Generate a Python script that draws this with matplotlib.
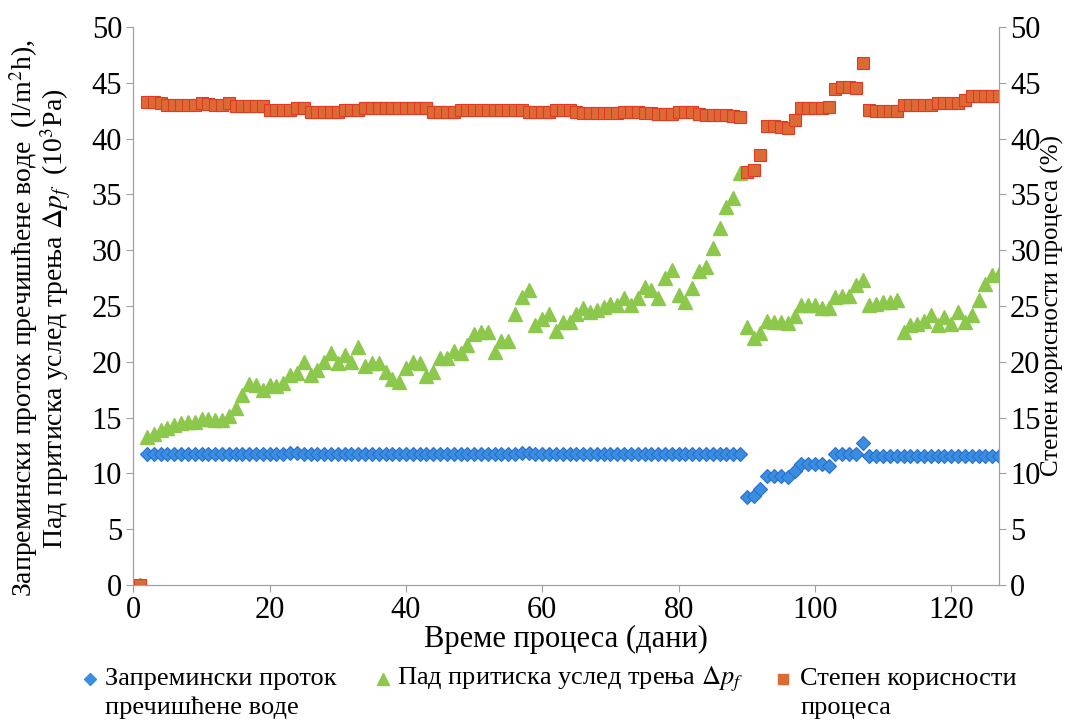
#Запремински проток, пад притиска и степен корисности процеса
#кроз време процеса (дани)

import matplotlib.pyplot as plt
from matplotlib.lines import Line2D

plt.rcParams['font.family'] = 'serif'
plt.rcParams['font.serif'] = ['Liberation Serif', 'DejaVu Serif']
plt.rcParams['mathtext.fontset'] = 'stix'
plt.rcParams['font.size'] = 22

dani = list(range(1, 128))

# запремински проток (l/m2h)
protok = [0.0,
          11.7, 11.7, 11.7, 11.7, 11.7, 11.7, 11.7, 11.7, 11.7, 11.7,
          11.7, 11.7, 11.7, 11.7, 11.7, 11.7, 11.7, 11.7, 11.7, 11.7,
          11.7, 11.8, 11.8, 11.7, 11.7, 11.7, 11.7, 11.7, 11.7, 11.7,
          11.7, 11.7, 11.7, 11.7, 11.7, 11.7, 11.7, 11.7, 11.7, 11.7,
          11.7, 11.7, 11.7, 11.7, 11.7, 11.7, 11.7, 11.7, 11.7, 11.7,
          11.7, 11.7, 11.7, 11.7, 11.7, 11.8, 11.8, 11.7, 11.7, 11.7,
          11.7, 11.7, 11.7, 11.7, 11.7, 11.7, 11.7, 11.7, 11.7, 11.7,
          11.7, 11.7, 11.7, 11.7, 11.7, 11.7, 11.7, 11.7, 11.7, 11.7,
          11.7, 11.7, 11.7, 11.7, 11.7, 11.7, 11.7, 11.7,
          7.9, 8.0, 8.6, 9.8, 9.8, 9.8, 9.7, 10.2, 10.8, 10.8,
          10.8, 10.8, 10.7, 11.7, 11.7, 11.7, 11.7, 12.7, 11.6, 11.6,
          11.6, 11.6, 11.6, 11.6, 11.6, 11.6, 11.6, 11.6, 11.6, 11.6,
          11.6, 11.6, 11.6, 11.6, 11.6, 11.6, 11.6, 11.6]

# пад притиска услед трења (10^3 Pa)
pritisak = [0.0,
            13.3, 13.5, 13.9, 14.1, 14.3, 14.5, 14.6, 14.6, 14.9, 14.9,
            14.8, 14.8, 15.1, 15.9, 17.0, 18.0, 17.9, 17.5, 17.9, 17.8,
            18.1, 18.8, 19.0, 20.0, 18.8, 19.3, 20.0, 20.8, 19.9, 20.6,
            20.0, 21.3, 19.6, 19.9, 19.9, 19.1, 18.5, 18.2, 19.4, 20.0,
            19.9, 18.7, 19.1, 20.3, 20.3, 21.0, 20.8, 21.5, 22.5, 22.7,
            22.7, 20.9, 21.9, 21.9, 24.3, 25.8, 26.4, 23.3, 23.8, 24.3,
            22.8, 23.6, 23.6, 24.3, 24.8, 24.5, 24.6, 24.9, 25.2, 25.1,
            25.7, 25.1, 25.7, 26.7, 26.4, 25.7, 27.5, 28.2, 26.0, 25.4,
            26.6, 28.1, 28.5, 30.2, 32.0, 33.9, 34.7, 36.9,
            23.1, 22.1, 22.6, 23.7, 23.6, 23.6, 23.5, 24.1, 25.1, 25.1,
            25.1, 24.8, 24.8, 25.8, 25.9, 25.9, 26.9, 27.3, 25.1, 25.2,
            25.4, 25.4, 25.5, 22.7, 23.3, 23.4, 23.7, 24.2, 23.3, 24.0,
            23.4, 24.5, 23.6, 24.2, 25.5, 27.0, 27.8, 27.9]

# степен корисности процеса (%)
korisnost = [0.0,
             43.3, 43.3, 43.15, 43.0, 43.0, 43.0, 43.0, 43.0, 43.15, 43.1,
             43.0, 43.0, 43.15, 42.9, 42.9, 42.9, 42.9, 42.9, 42.55, 42.55,
             42.55, 42.55, 42.7, 42.7, 42.4, 42.4, 42.4, 42.4, 42.4, 42.6,
             42.6, 42.6, 42.7, 42.7, 42.7, 42.7, 42.7, 42.75, 42.75, 42.75,
             42.75, 42.75, 42.4, 42.4, 42.4, 42.4, 42.55, 42.55, 42.55, 42.55,
             42.55, 42.55, 42.55, 42.6, 42.6, 42.6, 42.4, 42.4, 42.4, 42.4,
             42.6, 42.55, 42.55, 42.4, 42.3, 42.3, 42.3, 42.3, 42.3, 42.3,
             42.4, 42.4, 42.4, 42.3, 42.3, 42.2, 42.2, 42.2, 42.35, 42.35,
             42.35, 42.2, 42.1, 42.1, 42.1, 42.1, 42.0, 41.9,
             37.0, 37.2, 38.5, 41.15, 41.1, 41.0, 40.95, 41.65, 42.7, 42.7,
             42.7, 42.7, 42.85, 44.4, 44.65, 44.65, 44.55, 46.8, 42.6, 42.5,
             42.5, 42.5, 42.5, 43.0, 43.0, 43.0, 43.0, 43.0, 43.15, 43.15,
             43.15, 43.15, 43.45, 43.8, 43.8, 43.8, 43.8, 43.8]

PLAVA = '#3a8ee0'
ZELENA = '#8cc84b'
CRVENA = '#dc6a35'

fig = plt.figure(figsize=(10.78, 7.21), dpi=100)
ax = fig.add_axes([0.1237, 0.1886, 0.8030, 0.7740])

ax.plot(dani, protok, linestyle='none', marker='D', markersize=7,
        color=PLAVA, markeredgecolor='#2a6fd0', markeredgewidth=0.8)
ax.plot(dani, pritisak, linestyle='none', marker='^', markersize=10,
        color=ZELENA, markeredgecolor=ZELENA)

ax2 = ax.twinx()
ax2.plot(dani, korisnost, linestyle='none', marker='s', markersize=8,
         color=CRVENA, markeredgecolor='#e03a25', markeredgewidth=0.8)

for a in (ax, ax2):
    a.set_ylim(0, 50)
    a.set_yticks(range(0, 51, 5))
    a.spines['top'].set_visible(False)
    for s in a.spines.values():
        s.set_color('#a0a0a0')
    a.tick_params(direction='out', length=5, color='#a0a0a0', pad=3)

ax.set_xlim(0, 127)
ax.set_xticks(range(0, 121, 20))

ax.set_xlabel('Време процеса (дани)', labelpad=0)
ax.set_ylabel('Запремински проток пречишћене воде  (l/m$^2$h),\n'
              'Пад притиска услед трења $\\Delta p_f$  (10$^3$Pa)',
              fontsize=20, linespacing=0.95)
ax.yaxis.set_label_coords(-0.070, 0.478)
ax2.set_ylabel('Степен корисности процеса (%)', fontsize=18, labelpad=0)

# легенда испод графика
y1 = 1 - 679 / 721
y2 = 1 - 708 / 721
stavke = [
    (90, 'D', 6, PLAVA, 105, 'Запремински проток', 'пречишћене воде'),
    (383, '^', 8, ZELENA, 397, 'Пад притиска услед трења $\\Delta p_f$', ''),
    (783, 's', 7, CRVENA, 800, 'Степен корисности', 'процеса'),
]
for mx, mk, ms, boja, tx, red1, red2 in stavke:
    fig.add_artist(Line2D([mx / 1078], [y1], transform=fig.transFigure,
                          marker=mk, markersize=ms, color=boja, linestyle='none'))
    fig.text(tx / 1078, y1, red1, va='center', ha='left', fontsize=19)
    if red2:
        fig.text(tx / 1078, y2, red2, va='center', ha='left', fontsize=19)

plt.savefig('out.png', dpi=100)
